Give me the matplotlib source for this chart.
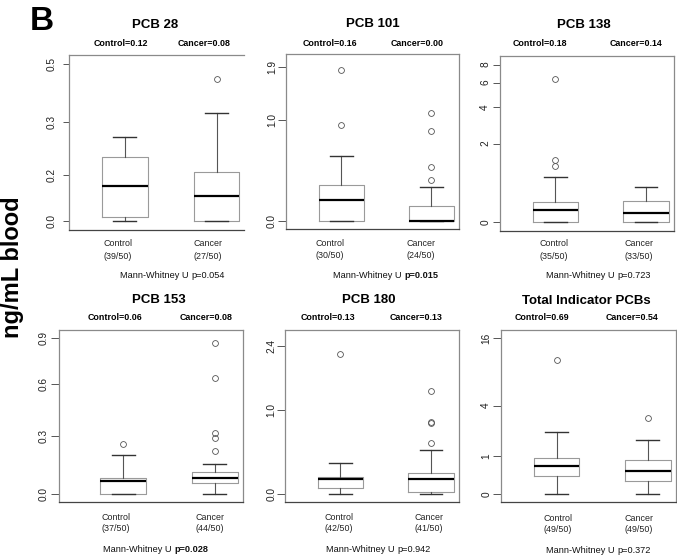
import matplotlib
matplotlib.use("Agg")
import matplotlib.pyplot as plt
from matplotlib.text import Annotation
import numpy as np

plt.rcParams["font.family"] = ["Liberation Sans", "DejaVu Sans"]

W, H = 677, 555

titles = ["PCB 28", "PCB 101", "PCB 138", "PCB 153", "PCB 180", "Total Indicator PCBs"]
control_medians = ["0.12", "0.16", "0.18", "0.06", "0.13", "0.69"]
cancer_medians = ["0.08", "0.00", "0.14", "0.08", "0.13", "0.54"]
control_detected = ["39/50", "30/50", "35/50", "37/50", "42/50", "49/50"]
cancer_detected = ["27/50", "24/50", "33/50", "44/50", "41/50", "49/50"]
p_values = ["0.054", "0.015", "0.723", "0.028", "0.942", "0.372"]
p_significant = [False, True, False, True, False, False]

# box stats: whislo, q1, median, q3, whishi (ng/mL)
control_box = [
    [0.0, 0.0096, 0.0946, 0.179, 0.241],
    [0.0, 0.0, 0.156, 0.279, 0.569],
    [0.0, 0.0, 0.182, 0.321, 0.871],
    [0.0, 0.0, 0.056, 0.069, 0.172],
    [0.0, 0.048, 0.129, 0.153, 0.294],
    [0.0, 0.387, 0.681, 0.944, 2.10],
]
cancer_box = [
    [0.0, 0.0, 0.066, 0.134, 0.323],
    [0.0, 0.0, 0.0, 0.111, 0.262],
    [0.0, 0.0, 0.145, 0.353, 0.644],
    [0.0, 0.045, 0.068, 0.093, 0.133],
    [0.0, 0.017, 0.129, 0.186, 0.437],
    [0.0, 0.266, 0.535, 0.854, 1.68],
]
control_outliers = [
    [],
    [0.943, 1.827],
    [1.191, 1.371, 6.358],
    [0.230],
    [2.171],
    [10.46],
]
cancer_outliers = [
    [0.444],
    [0.324, 0.448, 0.856, 1.102],
    [],
    [0.192, 0.257, 0.286, 0.610, 0.861],
    [0.523, 0.800, 0.812, 1.338],
    [3.02],
]

tick_values = [
    [0, 0.126, 0.290, 0.5],
    [0, 1.0, 1.9],
    [0, 2, 4, 6, 8],
    [0, 0.269, 0.569, 0.9],
    [0, 1.0, 2.4],
    [0, 1, 4, 16],
]
tick_labels = [
    ["0.0", "0.2", "0.3", "0.5"],
    ["0.0", "1.0", "1.9"],
    ["0", "2", "4", "6", "8"],
    ["0.0", "0.3", "0.6", "0.9"],
    ["0.0", "1.0", "2.4"],
    ["0", "1", "4", "16"],
]
y_limits = [
    (-0.023, 0.5365),
    (-0.0556, 2.157),
    (-0.1054, 9.09),
    (-0.0335, 0.961),
    (-0.0638, 2.865),
    (-0.1352, 18.76),
]

# layout in pixels: left, right, top, bottom
frames = [
    (69, 244, 54.7, 230),
    (286, 459.3, 54.3, 229.3),
    (500, 674, 56.3, 230.5),
    (59, 243.3, 330, 502.3),
    (285.3, 459, 330, 502),
    (501, 676, 330, 502.3),
]
x_limits = [(0.39, 2.30), (0.387, 2.31), (0.39, 2.31), (0.30, 2.31), (0.39, 2.31), (0.39, 2.31)]
tick_pads = [4.5, 1.0, 2.0, 1.5, 1.0, 1.5]
tick_lens = [4.5, 5.5, 5.0, 6.0, 5.5, 5.5]
title_xy = [(155, 25), (372.5, 24), (584, 25), (159, 300), (369, 300), (586.5, 300.5)]
median_label_y = [43, 43, 43, 317.7, 317.7, 317.7]
control_label_x = [121, 330, 540, 115, 328, 541.7]
cancer_label_x = [204.5, 416.7, 635.8, 206, 416, 632.5]
group_x = [(117.5, 208), (330, 421), (554, 639), (116, 210), (339, 429), (557.5, 639)]
group_y = [(243.3, 256.7), (243.3, 256), (244, 256.5), (517.7, 528.5), (517.3, 528.3), (518.3, 529.3)]
mw_xy = [(120, 276), (333, 276), (546, 276), (103, 550), (326, 550), (546, 550.7)]


def fx(x):
    return x / W


def fy(y):
    return 1 - y / H


fig = plt.figure(figsize=(W / 100, H / 100), dpi=100)

for i in range(6):
    left, right, top, bottom = frames[i]
    ax = fig.add_axes([fx(left), fy(bottom), (right - left) / W, (bottom - top) / H])
    ax.set_yscale("function", functions=(np.log1p, np.expm1))

    stats = []
    for box, fl in ((control_box[i], control_outliers[i]), (cancer_box[i], cancer_outliers[i])):
        lo, q1, med, q3, hi = box
        stats.append(dict(whislo=lo, q1=q1, med=med, q3=q3, whishi=hi, fliers=fl))
    ax.bxp(
        stats, positions=[1, 2], widths=0.5, capwidths=0.25,
        boxprops=dict(color="#9a9a9a", lw=0.8),
        medianprops=dict(color="black", lw=1.6),
        whiskerprops=dict(color="#555555", lw=0.8, linestyle="-"),
        capprops=dict(color="#333333", lw=1.0),
        flierprops=dict(marker="o", markerfacecolor="none", markeredgecolor="#555555",
                        markersize=4.2, markeredgewidth=0.6),
    )
    ax.set_xlim(*x_limits[i])
    ax.set_ylim(*y_limits[i])
    ax.set_xticks([])
    ax.set_yticks(tick_values[i])
    ax.set_yticklabels(tick_labels[i], rotation=90, va="center", fontsize=7.3)
    ax.yaxis.set_minor_locator(matplotlib.ticker.NullLocator())
    ax.tick_params(axis="y", length=tick_lens[i], width=0.7, color="#555555",
                   pad=tick_pads[i], labelcolor="#222222")
    for sp in ax.spines.values():
        sp.set_color("#8a8a8a")
        sp.set_linewidth(0.9)
    ax.spines["bottom"].set_color("#444444")
    if i == 0:
        ax.spines["right"].set_visible(False)

    fig.text(fx(title_xy[i][0]), fy(title_xy[i][1]), titles[i], ha="center", va="center",
             fontsize=9.5, fontweight="bold")
    fig.text(fx(control_label_x[i]), fy(median_label_y[i]), "Control=" + control_medians[i],
             ha="center", va="center", fontsize=6.4, fontweight="bold")
    fig.text(fx(cancer_label_x[i]), fy(median_label_y[i]), "Cancer=" + cancer_medians[i],
             ha="center", va="center", fontsize=6.4, fontweight="bold")
    for gx, name, det in ((group_x[i][0], "Control", control_detected[i]),
                          (group_x[i][1], "Cancer", cancer_detected[i])):
        fig.text(fx(gx), fy(group_y[i][0]), name, ha="center", va="center", fontsize=6.4, color="#222222")
        fig.text(fx(gx), fy(group_y[i][1]), "(" + det + ")", ha="center", va="center",
                 fontsize=6.4, color="#222222")

    # regular "Mann-Whitney U " followed by the p-value (bold when significant)
    t1 = fig.text(fx(mw_xy[i][0]), fy(mw_xy[i][1]), "Mann-Whitney U ", ha="left", va="center",
                  fontsize=6.6, color="#111111")
    fig.add_artist(Annotation(
        "p=" + p_values[i], xy=(1, 0.5), xycoords=t1, va="center", ha="left",
        fontsize=6.6, color="#111111", fontweight="bold" if p_significant[i] else "normal"))

fig.text(fx(42), fy(21), "B", ha="center", va="center", fontsize=24, fontweight="bold")
fig.text(fx(13), fy(267), "ng/mL blood", ha="center", va="center", rotation=90,
         fontsize=17, fontweight="bold")

fig.savefig("out.png", dpi=100)
